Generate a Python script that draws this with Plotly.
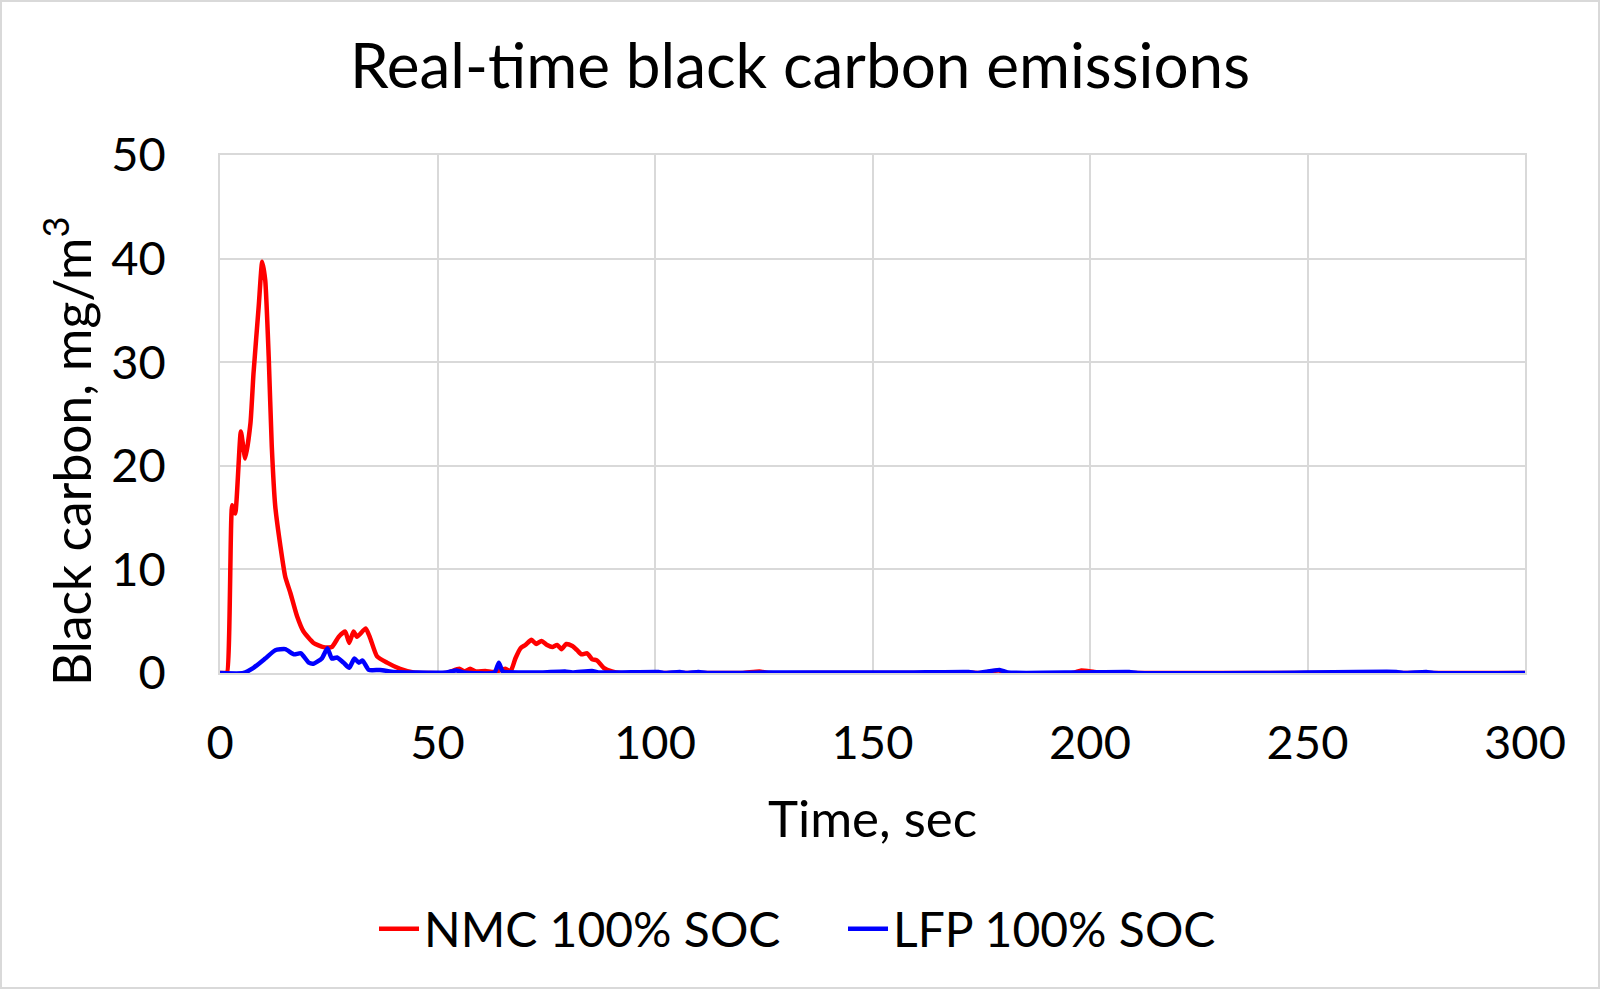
import plotly.graph_objects as go

# ---- data ----
nmc_time = [0, 1, 1.6, 2.8, 3.5, 4.8, 5.8, 7, 7.7, 8.9, 9.7, 10.4, 11.2, 11.9, 12.7, 13.9,
            15, 16.2, 17.7, 19.2, 21.5, 23.8, 25.7, 27.3, 28.8, 29.7, 30.7, 31.5, 33.5,
            34.5, 36.1, 38.4, 41.4, 44.5, 48, 52, 55, 56.2, 57.5, 58.8, 61, 63, 65.6,
            66.8, 67.9, 69.1, 70.2, 71.6, 72.7, 73.9, 75.2, 76.4, 77.5, 78.5, 79.6, 81,
            82.1, 83.1, 84.4, 85.5, 86.7, 88.2, 90.1, 92, 100, 110, 120, 124, 126, 140,
            160, 172, 175, 179, 181, 196, 198, 201, 204, 220, 240, 260, 280, 300]
nmc_bc = [0, 0, 0, 16.2, 15.4, 23.3, 20.7, 24.1, 28.9, 35.4, 39.7, 37.9, 30.5, 21.9, 16.1, 12.2,
          9.3, 7.7, 5.5, 4.0, 2.9, 2.5, 2.5, 3.5, 4.0, 2.9, 4.0, 3.5, 4.3,
          3.4, 1.6, 1.0, 0.4, 0.05, 0, 0, 0.4, 0.15, 0.4, 0.15, 0.2, 0.1, 0.4,
          0.15, 1.4, 2.4, 2.7, 3.2, 2.8, 3.1, 2.7, 2.5, 2.7, 2.3, 2.8, 2.6,
          2.2, 1.8, 1.9, 1.35, 1.2, 0.5, 0.15, 0, 0, 0, 0, 0.15, 0, 0,
          0, 0.05, 0, 0.25, 0, 0, 0.25, 0.1, 0, 0, 0, 0, 0, 0]

lfp_time = [0, 5.4, 7.7, 10.4, 12.7, 15, 17, 18.6, 20.4, 21.5, 23.4, 24.7, 25.7, 26.9, 28.4,
            29.7, 30.9, 31.9, 32.8, 34.2, 36.8, 40, 45, 52, 54.3, 56, 63.1, 64.1, 65, 70,
            74, 79.3, 81, 85.5, 87, 100.8, 102, 105.7, 107, 110, 112, 127.5, 141, 158,
            172.1, 174, 179.2, 181, 197, 209, 211, 240, 270.4, 272, 277.3, 279, 300]
lfp_bc = [0, 0, 0.5, 1.4, 2.2, 2.3, 1.8, 1.9, 1.0, 0.9, 1.4, 2.4, 1.4, 1.5, 1.0,
          0.5, 1.4, 1.0, 1.2, 0.3, 0.3, 0.1, 0.05, 0.05, 0.25, 0.05, 0.05, 1.0, 0.15, 0.05,
          0.05, 0.15, 0.05, 0.2, 0.05, 0.1, 0, 0.1, 0, 0.1, 0, 0.05, 0.05, 0.05,
          0.1, 0, 0.3, 0.05, 0.05, 0.1, 0, 0, 0.1, 0, 0.1, 0, 0]

x_ticks = [0, 50, 100, 150, 200, 250, 300]
y_ticks = [0, 10, 20, 30, 40, 50]

title_text = "Real-time black carbon emissions"
x_title = "Time, sec"
y_title = "Black carbon, mg/m<sup>3</sup>"
series_names = ["NMC 100% SOC", "LFP 100% SOC"]

# ---- figure ----
W, H = 1600, 989
ML, MR, MT, MB = 220, 75, 155, 316
FONT = "Lato, 'Open Sans', sans-serif"
GRID = "#d9d9d9"

fig = go.Figure()
fig.add_trace(go.Scatter(x=nmc_time, y=nmc_bc, mode="lines", name=series_names[0],
                         line=dict(color="#ff0000", width=4.5, shape="spline", smoothing=0.5)))
fig.add_trace(go.Scatter(x=lfp_time, y=lfp_bc, mode="lines", name=series_names[1],
                         line=dict(color="#0000ff", width=4.5, shape="spline", smoothing=0.5)))

pw = W - ML - MR
ph = H - MT - MB
# outer chart border
fig.add_shape(type="rect", xref="paper", yref="paper",
              x0=-(ML - 1) / pw, x1=1 + (MR - 1) / pw,
              y0=-(MB - 1) / ph, y1=1 + (MT - 1) / ph,
              line=dict(color=GRID, width=2), fillcolor="rgba(0,0,0,0)", layer="below")

# y axis title (placed as annotation to match reference position)
fig.add_annotation(text=y_title, xref="paper", yref="paper",
                   x=(67 - ML) / pw, y=1 - (452 - MT) / ph,
                   xanchor="center", yanchor="middle", textangle=-90, showarrow=False,
                   font=dict(size=51.5, family=FONT, color="black"))

fig.update_layout(
    width=W, height=H,
    margin=dict(l=ML, r=MR, t=MT, b=MB, autoexpand=False),
    paper_bgcolor="white", plot_bgcolor="white",
    font=dict(family=FONT, size=47, color="black"),
    title=dict(text=title_text, x=0.5, xref="container", xanchor="center",
               y=1 - 66 / H, yref="container", yanchor="middle",
               font=dict(size=62, family=FONT, color="black")),
    xaxis=dict(range=[0, 300], tickvals=x_ticks, showgrid=True, gridcolor=GRID, gridwidth=1.5,
               zeroline=False, showline=True, linecolor=GRID, linewidth=1.5, mirror=True,
               ticks="", ticklabelstandoff=28, automargin=False,
               title=dict(text=x_title, standoff=33, font=dict(size=51))),
    yaxis=dict(range=[0, 50], tickvals=y_ticks, showgrid=True, gridcolor=GRID, gridwidth=1.5,
               zeroline=False, showline=True, linecolor=GRID, linewidth=1.5, mirror=True,
               ticks="", ticklabelstandoff=43, automargin=False),
    showlegend=True,
    legend=dict(orientation="h", x=374 / W, xref="container", xanchor="left",
                y=1 - 929 / H, yref="container", yanchor="middle",
                font=dict(size=48, family=FONT), itemwidth=40,
                entrywidth=414, entrywidthmode="pixels",
                bgcolor="rgba(0,0,0,0)"),
)

fig.write_html("out.html", config={"displayModeBar": False},
               post_script="document.body.style.margin='0';")
